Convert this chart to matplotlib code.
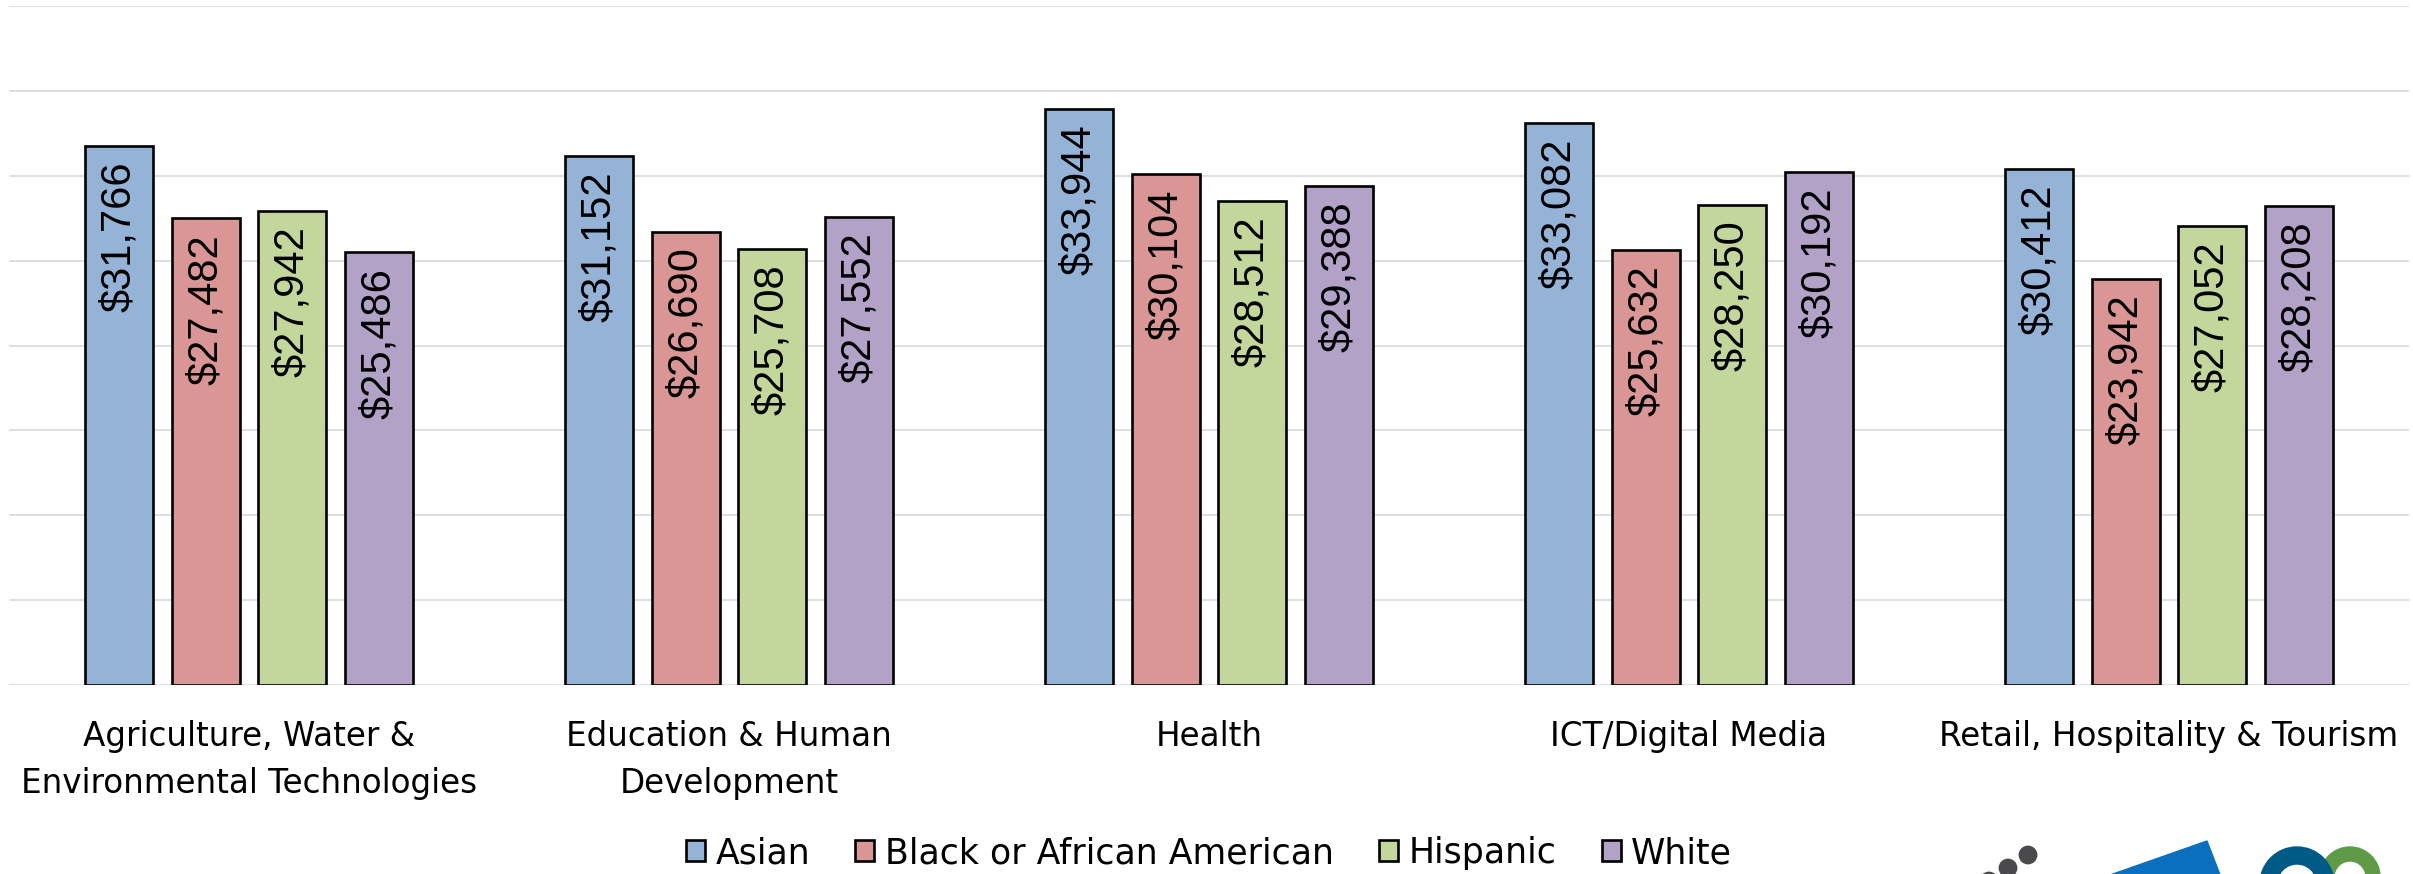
import matplotlib
matplotlib.use("Agg")
import matplotlib.pyplot as plt
import numpy as np
from matplotlib.patches import Circle, Polygon, Wedge
from matplotlib.transforms import IdentityTransform

categories = ["Agriculture, Water &\nEnvironmental Technologies",
              "Education & Human\nDevelopment",
              "Health",
              "ICT/Digital Media",
              "Retail, Hospitality & Tourism"]
series_names = ["Asian", "Black or African American", "Hispanic", "White"]
asian = [31766, 31152, 33944, 33082, 30412]
black = [27482, 26690, 30104, 25632, 23942]
hispanic = [27942, 25708, 28512, 28250, 27052]
white = [25486, 27552, 29388, 30192, 28208]
series_values = [asian, black, hispanic, white]
colors = ["#95B3D7", "#D99694", "#C3D69B", "#B3A2C7"]

W, H = 2413, 874
fig = plt.figure(figsize=(W / 100, H / 100), dpi=100)
ax = fig.add_axes([9 / W, (H - 685) / H, (2409 - 9) / W, (685 - 6) / H])

x = np.arange(len(categories))
bw = 0.1417
pitch = 0.181
offsets = (np.arange(4) - 1.5) * pitch

for i, (name, vals, c) in enumerate(zip(series_names, series_values, colors)):
    xs = x + offsets[i]
    ax.bar(xs, vals, width=bw, color=c, edgecolor="black", linewidth=1.9,
           label=name, zorder=3)
    for xi, v in zip(xs, vals):
        ax.annotate(f"${v:,}", xy=(xi, v), xytext=(0, -11),
                    textcoords="offset points", rotation=90,
                    ha="center", va="top", fontsize=30,
                    family="Liberation Sans", color="black", zorder=4)

ax.set_xlim(-0.5, len(categories) - 0.5)
ax.set_ylim(0, 40000)
ax.set_yticks(np.arange(0, 40001, 5000))
ax.yaxis.grid(True, color="#D9D9D9", linewidth=1.2, zorder=0)
ax.set_axisbelow(True)
ax.tick_params(axis="y", left=False, labelleft=False)
ax.set_xticks(x)
ax.set_xticklabels(categories, fontsize=23.5, family="DejaVu Sans",
                   linespacing=1.55)
ax.tick_params(axis="x", length=0, pad=25)
for s in ax.spines.values():
    s.set_visible(False)

fig.legend(loc="center", bbox_to_anchor=(1209 / W, 1 - 853 / H), ncol=4,
           frameon=False, prop={"family": "DejaVu Sans", "size": 25},
           handlelength=0.55, handleheight=0.55, handletextpad=0.3,
           columnspacing=1.3)

# logo fragments at the bottom right
ident = IdentityTransform()
gray = "#4A4A4D"
for cx, cy, r in [(2028, H - 855, 8.7), (2008, H - 868, 8.7), (1989, H - 881, 8.7)]:
    fig.patches.append(Circle((cx, cy), r, transform=ident, color=gray))
fig.patches.append(Polygon([(2113, 0), (2207, 33), (2222, -6), (2100, -6)],
                           closed=True, transform=ident, color="#0A6FBF"))
fig.patches.append(Wedge((2350, -3), 30, 0, 360, width=14, transform=ident,
                         color="#5F9B47"))
fig.patches.append(Wedge((2297, -10), 37, 0, 360, width=17, transform=ident,
                         color="#005A87"))

fig.savefig("out.png", dpi=100)
